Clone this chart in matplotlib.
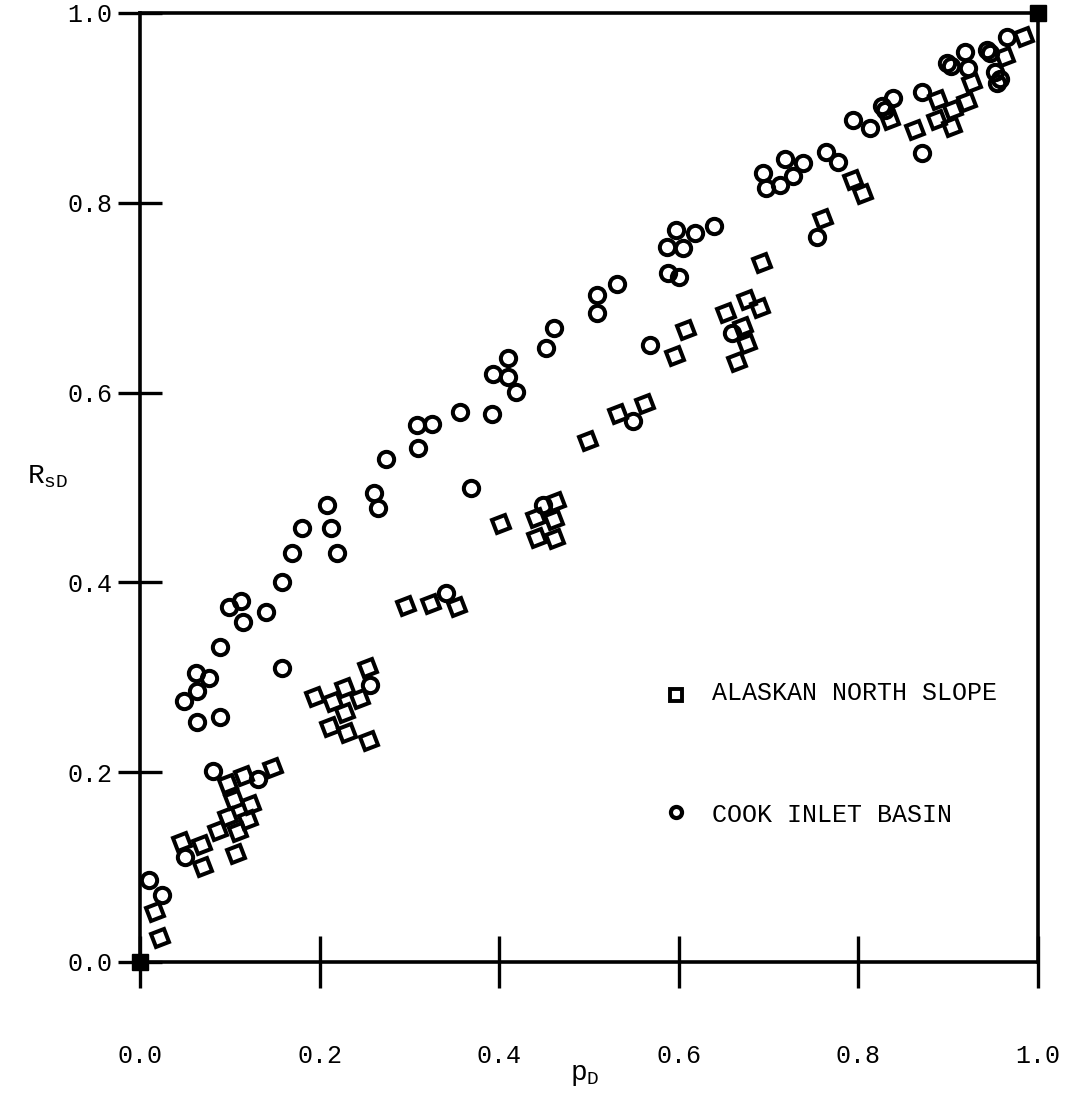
import matplotlib
matplotlib.use("Agg")
import matplotlib.pyplot as plt
from matplotlib.markers import MarkerStyle
from matplotlib.transforms import Affine2D

plt.rcParams['font.family'] = ['Liberation Mono', 'DejaVu Sans Mono']
plt.rcParams['mathtext.fontset'] = 'custom'
plt.rcParams['mathtext.rm'] = 'Liberation Mono'
plt.rcParams['mathtext.it'] = 'Liberation Mono'

# Alaskan North Slope (pD, RsD)
ans_pd = [0.017, 0.022, 0.047, 0.069, 0.070, 0.098, 0.116, 0.148, 0.105, 0.124,
          0.098, 0.120, 0.087, 0.109, 0.107, 0.195, 0.228, 0.215, 0.245, 0.228,
          0.212, 0.231, 0.254, 0.255, 0.296, 0.324, 0.353, 0.402, 0.463, 0.441,
          0.461, 0.442, 0.462, 0.499, 0.532, 0.562, 0.596, 0.608, 0.653, 0.676,
          0.690, 0.671, 0.676, 0.665, 0.693, 0.761, 0.794, 0.805, 0.835, 0.863,
          0.927, 0.921, 0.889, 0.905, 0.888, 0.904, 0.963, 0.984]
ans_rsd = [0.053, 0.025, 0.126, 0.123, 0.100, 0.188, 0.196, 0.204, 0.171, 0.165,
           0.153, 0.150, 0.138, 0.137, 0.114, 0.279, 0.289, 0.274, 0.277, 0.262,
           0.248, 0.241, 0.310, 0.233, 0.375, 0.377, 0.374, 0.462, 0.485, 0.468,
           0.466, 0.447, 0.446, 0.549, 0.577, 0.588, 0.639, 0.666, 0.684, 0.698,
           0.689, 0.669, 0.651, 0.632, 0.737, 0.783, 0.824, 0.809, 0.887, 0.877,
           0.926, 0.906, 0.908, 0.898, 0.887, 0.880, 0.954, 0.975]

# Cook Inlet Basin (pD, RsD)
cib_pd = [0.010, 0.024, 0.050, 0.081, 0.131, 0.049, 0.063, 0.062, 0.077, 0.063,
          0.089, 0.089, 0.158, 0.099, 0.112, 0.115, 0.140, 0.158, 0.169, 0.180,
          0.213, 0.219, 0.208, 0.261, 0.265, 0.274, 0.308, 0.325, 0.310, 0.356,
          0.392, 0.369, 0.341, 0.256, 0.410, 0.393, 0.410, 0.419, 0.449, 0.461,
          0.452, 0.509, 0.509, 0.531, 0.568, 0.549, 0.587, 0.605, 0.597, 0.618,
          0.639, 0.588, 0.600, 0.659, 0.754, 0.694, 0.718, 0.738, 0.727, 0.713,
          0.697, 0.764, 0.777, 0.794, 0.813, 0.826, 0.839, 0.871, 0.871, 0.899,
          0.922, 0.919, 0.943, 0.965, 0.952, 0.954, 0.830, 0.903, 0.947, 0.958]
cib_rsd = [0.086, 0.071, 0.111, 0.201, 0.193, 0.275, 0.286, 0.305, 0.299, 0.253,
           0.258, 0.332, 0.310, 0.374, 0.380, 0.358, 0.369, 0.400, 0.431, 0.457,
           0.457, 0.431, 0.481, 0.494, 0.478, 0.530, 0.566, 0.567, 0.542, 0.579,
           0.577, 0.499, 0.389, 0.292, 0.636, 0.620, 0.616, 0.601, 0.482, 0.668,
           0.647, 0.703, 0.684, 0.714, 0.650, 0.570, 0.753, 0.752, 0.771, 0.768,
           0.776, 0.726, 0.722, 0.663, 0.764, 0.831, 0.846, 0.842, 0.828, 0.819,
           0.816, 0.854, 0.843, 0.887, 0.879, 0.902, 0.910, 0.917, 0.852, 0.947,
           0.942, 0.959, 0.961, 0.975, 0.938, 0.926, 0.898, 0.944, 0.958, 0.930]

# end points of both curves
end_pd = [0.0, 1.0]
end_rsd = [0.0, 1.0]

ticks = [0.0, 0.2, 0.4, 0.6, 0.8, 1.0]
tick_labels = ['0.0', '0.2', '0.4', '0.6', '0.8', '1.0']

fig = plt.figure(figsize=(10.73, 10.98), dpi=100)
ax = fig.add_axes([0.1305, 0.1239, 0.8369, 0.8643])

sq = MarkerStyle('s', transform=Affine2D().rotate_deg(20))

ax.plot(ans_pd, ans_rsd, linestyle='none', marker=sq, markersize=10.5,
        markerfacecolor='none', markeredgecolor='black', markeredgewidth=2.9)
ax.plot(cib_pd, cib_rsd, linestyle='none', marker='o', markersize=11,
        markerfacecolor='none', markeredgecolor='black', markeredgewidth=2.9)
ax.plot(end_pd, end_rsd, linestyle='none', marker='s', markersize=12,
        color='black', clip_on=False, zorder=5)

ax.set_xlim(0, 1)
ax.set_ylim(0, 1)
ax.set_xticks(ticks)
ax.set_xticklabels(tick_labels)
ax.set_yticks(ticks)
ax.set_yticklabels(tick_labels)
ax.tick_params(axis='x', direction='inout', length=38, width=2.4, pad=40, labelsize=18)
ax.tick_params(axis='y', direction='inout', length=32, width=2.4, pad=4, labelsize=18)

for s in ax.spines.values():
    s.set_linewidth(2.6)

# legend drawn by hand
ax.plot([0.597], [0.281], linestyle='none', marker='s', markersize=9,
        markerfacecolor='none', markeredgecolor='black', markeredgewidth=2.8)
ax.plot([0.597], [0.158], linestyle='none', marker='o', markersize=8,
        markerfacecolor='none', markeredgecolor='black', markeredgewidth=3.0)
ax.text(0.637, 0.283, 'ALASKAN NORTH SLOPE', fontsize=18, va='center', ha='left')
ax.text(0.637, 0.155, 'COOK INLET BASIN', fontsize=18, va='center', ha='left')

fig.text(0.044, 0.566, r'R$_{\rm sD}$', fontsize=20, ha='center', va='center')
fig.text(0.545, 0.021, r'p$_{\rm D}$', fontsize=20, ha='center', va='center')

fig.savefig('out.png', dpi=100)
